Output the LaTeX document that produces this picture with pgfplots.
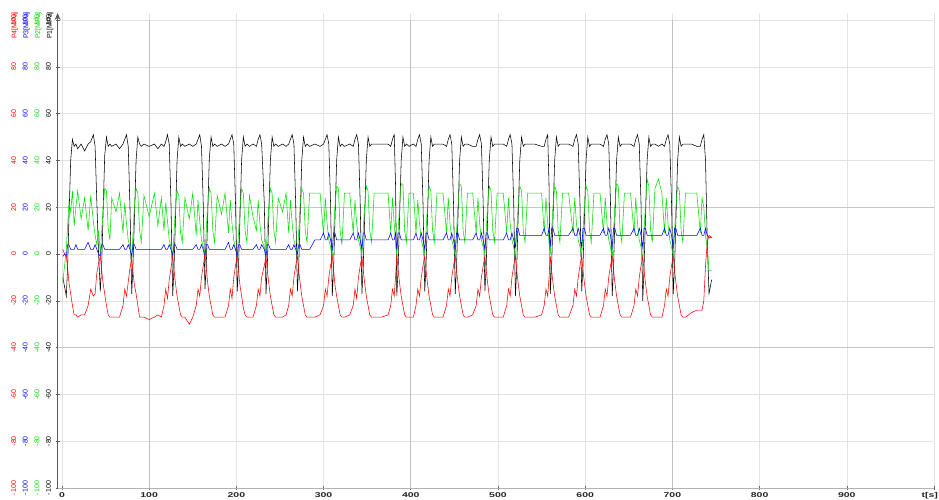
\documentclass[border=0pt]{standalone}
\usepackage{pgfplots}
\pgfplotsset{compat=1.18}
\usepackage{pgfplotstable}
\usepackage{graphicx}
\usepackage{fontspec}
\setmainfont{Liberation Sans}
\usetikzlibrary{arrows.meta}
\definecolor{pone}{RGB}{0,0,0}
\definecolor{ptwo}{RGB}{0,225,0}
\definecolor{pthree}{RGB}{0,0,255}
\definecolor{pfour}{RGB}{255,0,0}
\newcommand\ylab[1]{\rotatebox{90}{\textcolor{pfour}{#1}}\hspace{6.7pt}\rotatebox{90}{\textcolor{pthree}{#1}}\hspace{6.7pt}\rotatebox{90}{\textcolor{ptwo}{#1}}\hspace{6.7pt}\rotatebox{90}{\textcolor{pone}{#1}}}
\newcommand\sx[1]{\scalebox{1.5}[1]{#1}}
\pgfplotstableread{
t p1 p2 p3 p4
1 -10 -12 -1 2
3 -14 -5 0 0
5 -18 2 -1 -1
6.5 -5 12 4 -6
8 15 22 4 -12
10 40 18 2 -17
12 49 27 2 -22
14 46 12 2 -26
16 47 20 4 -26
18 45 27 2 -27
22 47 15 2 -26
26 44 24 2 -26
30 47 10 5 -22
33 48 25 2 -15
36 51 14 2 -18
38 46 8 4 -17
40 22 4 2 -8
42 0 10 0 -4
44 -16 0 -1 -1
45.5 -5 9 4 -7
47 15 19 4 -12
49 42 28 2 -17
51 50 27 2 -22
53 46 11 2 -26
55 47 6 2 -27
57 46 24 2 -27
62 47 18 2 -27
66 45 26 2 -27
70 47 9 4 -22
72 49 22 2 -15
74 51 13 2 -18
76 46 6 4 -12
78 20 3 2 -6
80 -17 -2 -1 -2
81.5 -4 9 4 -8
83 14 20 4 -13
85 40 28 2 -17
87 50 26 2 -22
89 47 10 2 -27
91 46 5 2 -27
94 47 25 2 -27
100 46 16 2 -28
106 47 26 2 -27
110 45 12 2 -26
114 47 24 2 -27
117 46 10 4 -22
119 48 22 2 -15
121 51 14 2 -19
123 47 6 4 -11
125 22 3 2 -6
127 -18 -1 -1 -1
128.5 -6 9 4 -7
130 13 19 4 -12
132 40 27 2 -18
134 50 25 2 -22
136 46 9 2 -26
138 47 5 2 -27
141 46 24 2 -27
146 47 15 2 -30
150 46 26 2 -27
154 47 8 4 -22
156 49 23 2 -15
158 51 14 2 -18
160 46 6 4 -10
162 22 3 2 -5
164 -15 0 -1 0
165.5 -5 10 4 -6
167 15 21 4 -12
169 41 28 2 -18
171 50 26 2 -22
173 46 10 2 -26
175 47 5 2 -27
178 46 25 2 -27
183 47 17 2 -27
187 46 26 2 -27
191 47 9 5 -22
193 49 23 2 -15
195 51 13 2 -19
197 47 6 4 -10
199 22 2 2 -5
201 -16 -1 -1 -1
202.5 -5 9 4 -7
204 14 19 4 -13
206 40 28 2 -18
208 50 26 2 -23
210 46 10 2 -26
212 47 5 2 -27
215 46 25 2 -27
219 47 16 2 -27
223 46 10 4 -22
225 49 23 2 -15
227 51 13 2 -18
229 47 6 4 -10
232 22 3 2 -5
234 -17 0 -1 -1
235.5 -5 10 4 -7
237 14 20 4 -12
239 40 28 2 -18
241 50 26 2 -22
243 46 10 2 -26
245 47 5 2 -27
248 46 24 2 -27
253 47 18 2 -27
257 46 26 2 -26
260 47 9 4 -22
262 49 23 2 -15
264 51 13 2 -18
266 47 6 4 -10
268 22 3 2 -5
270 -16 0 0 -1
271.5 -5 10 4 -7
273 14 20 4 -12
275 40 28 2 -18
277 50 26 2 -22
279 46 10 2 -26
281 47 5 2 -27
284 46 26 2 -27
290 47 26 6 -27
296 46 26 6 -26
300 47 8 9 -22
302 49 24 6 -15
304 51 13 6 -18
306 47 6 9 -10
308 22 3 6 -5
310 -18 -2 2 -1
311.5 -6 10 9 -7
313 14 20 9 -13
315 40 29 6 -18
317 50 28 6 -22
319 46 10 6 -26
321 47 4 6 -27
324 46 26 6 -27
330 47 26 6 -26
334 46 9 9 -22
336 49 23 6 -15
338 51 13 6 -19
340 47 6 9 -10
342 22 3 6 -5
344 -17 0 2 -1
345.5 -5 10 9 -7
347 14 20 9 -12
349 40 29 6 -18
351 50 27 6 -22
353 46 10 6 -26
355 47 5 6 -27
358 47 26 6 -27
366 47 26 6 -27
374 47 26 6 -26
377 46 9 9 -22
379 49 24 6 -15
381 51 13 6 -18
382.5 30 5 9 -10
384 -18 -2 2 0
385.5 -6 10 9 -7
387 14 20 9 -12
389 40 30 6 -18
391 50 30 6 -22
393 46 10 6 -26
395 47 5 6 -27
398 46 26 6 -27
403 47 26 6 -27
406 46 9 9 -22
408 49 23 6 -15
410 51 13 6 -18
412 47 6 9 -10
414 22 3 6 -5
416 -16 0 2 -1
417.5 -5 10 9 -7
419 14 20 9 -12
421 40 29 6 -18
423 50 27 6 -22
425 46 10 6 -26
427 47 5 6 -27
430 47 26 6 -27
437 47 26 6 -27
441 46 9 9 -22
443 49 24 6 -15
445 51 13 6 -18
447 47 6 9 -10
449 22 3 6 -5
451 -17 -1 2 -1
452.5 -5 10 9 -7
454 14 20 9 -12
456 40 30 6 -18
458 50 29 6 -22
460 46 10 6 -26
462 47 5 6 -27
465 47 26 6 -27
471 46 26 6 -26
475 46 9 9 -22
477 49 24 6 -15
479 51 13 6 -18
481 47 6 9 -10
483 22 3 6 -5
485 -16 0 2 -1
486.5 -5 10 9 -7
488 14 20 9 -12
490 40 29 6 -18
492 50 27 6 -22
494 46 10 6 -26
496 47 5 6 -27
499 47 26 6 -27
506 47 26 6 -27
510 46 9 9 -22
512 49 24 6 -15
514 51 13 6 -18
516 47 6 9 -10
518 22 3 6 -5
520 -18 -2 3 -1
521.5 -6 10 11 -7
523 14 20 11 -12
525 40 29 8 -18
527 50 27 8 -22
529 46 10 8 -26
531 47 5 8 -27
534 47 26 8 -27
542 47 26 8 -27
550 46 26 8 -26
553 46 9 11 -22
555 49 24 8 -15
557 51 13 8 -18
558.5 30 5 11 -10
560 -17 0 3 -1
561.5 -5 10 11 -7
563 14 20 11 -12
565 40 29 8 -18
567 50 27 8 -22
569 46 10 8 -26
571 47 5 8 -27
574 47 26 8 -27
581 47 26 8 -27
586 46 9 11 -22
588 49 24 8 -15
590 51 13 8 -18
592 47 6 11 -10
594 22 3 8 -5
596 -16 -1 3 -1
597.5 -5 10 11 -7
599 14 20 11 -12
601 40 29 8 -18
603 50 27 8 -22
605 46 10 8 -26
607 47 5 8 -27
610 47 26 8 -27
617 47 26 8 -27
621 46 9 11 -22
623 49 24 8 -15
625 51 13 8 -18
627 47 6 11 -10
629 22 3 8 -5
631 -18 -2 3 -1
632.5 -6 10 11 -7
634 14 20 11 -12
636 40 30 8 -18
638 50 29 8 -22
640 46 10 8 -26
642 47 5 8 -27
645 47 26 8 -27
652 47 26 8 -27
656 46 9 11 -22
658 49 24 8 -15
660 51 13 8 -18
662 47 6 11 -10
664 22 3 8 -5
666 -20 -3 3 -1
667.5 -6 10 11 -7
669 14 20 11 -12
671 40 32 8 -18
673 50 29 8 -22
675 46 10 8 -26
677 47 5 8 -27
680 47 28 8 -27
684 46 32 8 -27
688 47 26 8 -27
691 46 9 11 -22
693 49 24 8 -15
695 51 13 8 -18
697 47 6 11 -10
699 22 3 8 -5
701 -17 -1 3 -1
702.5 -5 10 11 -7
704 14 20 11 -12
706 40 29 8 -18
708 50 27 8 -22
710 46 10 8 -26
712 47 5 8 -27
715 47 26 8 -27
722 47 26 8 -25
728 46 26 8 -24
732 46 9 11 -24
734 49 24 8 -24
736 51 20 8 -20
738 40 8 11 -5
740 5 2 8 5
742 -17 -7 7 8
745 -11 -7 7 7
}\data
\begin{document}
\begin{tikzpicture}
\begin{axis}[
  scale only axis, width=876.4pt, height=475pt,
  xmin=-5, xmax=1000, ymin=-100, ymax=103,
  axis x line=bottom, axis y line=left,
  x axis line style={-, gray!60, line width=0.8pt},
  y axis line style={-{Stealth[length=7pt,width=6pt]}, black!65, line width=1.3pt},
  xtick={0,100,...,900},
  xticklabels={\sx{0},\sx{100},\sx{200},\sx{300},\sx{400},\sx{500},\sx{600},\sx{700},\sx{800},\sx{900}},
  xticklabel style={font=\bfseries\fontsize{7}{8}\selectfont, text=black!85, yshift=1pt},
  extra x ticks={1000}, extra x tick labels={},
  ytick={-100,-80,...,100},
  yticklabel={\ylab{\pgfmathprintnumber{\tick}}},
  yticklabel style={font=\fontsize{7}{8}\selectfont, xshift=-1pt},
  /pgf/number format/assume math mode=true,
  grid=major, major grid style={gray!22, line width=0.6pt},
  tick align=center, major tick length=4pt,
  tick style={black!60, line width=0.6pt},
  clip=true,
]
\draw[gray!50, line width=0.6pt] (axis cs:100,-100) -- (axis cs:100,100);
\draw[gray!50, line width=0.6pt] (axis cs:400,-100) -- (axis cs:400,100);
\draw[gray!50, line width=0.6pt] (axis cs:700,-100) -- (axis cs:700,100);
\draw[gray!45, line width=0.6pt] (axis cs:-5,20) -- (axis cs:1000,20);
\draw[gray!45, line width=0.6pt] (axis cs:-5,-40) -- (axis cs:1000,-40);
\addplot[pone, line width=0.55pt, mark=none] table[x=t, y=p1] {\data};
\addplot[ptwo, line width=0.55pt, mark=none] table[x=t, y=p2] {\data};
\addplot[pthree, line width=0.55pt, mark=none] table[x=t, y=p3] {\data};
\addplot[pfour, line width=0.55pt, mark=none] table[x=t, y=p4] {\data};
\end{axis}
\node[anchor=north east, inner sep=0pt, font=\bfseries\fontsize{7}{8}\selectfont, text=black!85] at (880.5pt,-4.5pt) {\sx{t[s]}};
\node[rotate=90, text=pfour, font=\fontsize{7}{8}\selectfont] at (-42.7pt,462.5pt) {P4[MPa]};
\node[rotate=90, text=pthree, font=\fontsize{7}{8}\selectfont] at (-31.0pt,462.5pt) {P3[MPa]};
\node[rotate=90, text=ptwo, font=\fontsize{7}{8}\selectfont] at (-19.3pt,462.5pt) {P2[MPa]};
\node[rotate=90, text=pone, font=\fontsize{7}{8}\selectfont] at (-7.6pt,462.5pt) {P1[MPa]};
\pgfresetboundingbox
\useasboundingbox (-57.6pt,-11pt) rectangle (881.4pt,488pt);
\end{tikzpicture}
\end{document}
